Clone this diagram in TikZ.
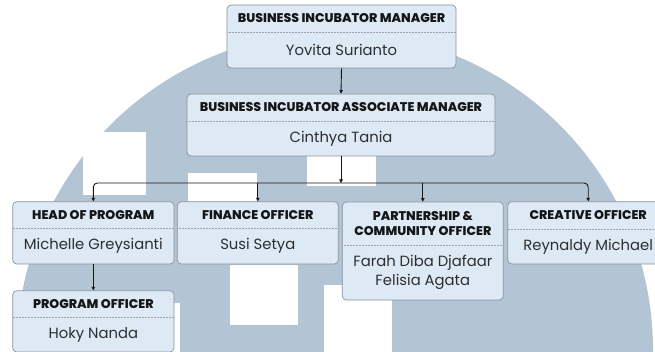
\documentclass[tikz,border=0pt]{standalone}
\usepackage{fontspec}
\setmainfont{Poppins}[BoldFont={Poppins ExtraBold}]
\usetikzlibrary{arrows.meta}
\definecolor{wm}{HTML}{B3C4D5}
\definecolor{boxfill}{HTML}{DDE9F5}
\definecolor{boxline}{HTML}{8A939D}
\definecolor{divline}{HTML}{9AA3AD}
\definecolor{ink}{HTML}{161616}
\definecolor{nameink}{HTML}{2E2E2E}
\tikzset{
  box/.style={draw=boxline, fill=boxfill, line width=0.7pt, rounded corners=4pt, inner sep=0pt},
  divider/.style={draw=divline, line width=0.5pt, densely dotted},
  ttl/.style={font=\bfseries\fontsize{12.6}{15.5}\selectfont, text=ink, align=center, inner sep=0pt},
  nm/.style={font=\fontsize{14.8}{19.5}\selectfont, text=nameink, align=center, inner sep=0pt},
  conn/.style={draw=ink, line width=0.9pt, -{Triangle[length=3.5pt,width=3.5pt]}},
}
\newcommand\obox[8]{%
  \node[box, minimum width={#4-#2}, minimum height={#6-#3}] (#1) at ({(#2+#4)/2},{(#3+#6)/2}) {};
  \draw[divider] (#2,#5) -- (#4,#5);
  \node[ttl] (#1-t) at ({(#2+#4)/2},{(#3+#5)/2}) {#7};
  \node[nm] (#1-n) at ({(#2+#4)/2},{(#5+#6)/2}) {#8};
}
\begin{document}
\begin{tikzpicture}[x=1pt,y=-1pt]
\useasboundingbox (0,0) rectangle (655,352);
% watermark
\begin{scope}
\clip (0,0) rectangle (655,352);
\fill[wm] (335,350) circle[radius=318pt];
\fill[white] (83,132) rectangle (146,195);
\fill[white] (188,173) rectangle (257,205);
\fill[white] (307,156) rectangle (376,186);
\fill[white] (230,265) rectangle (298,325);
\fill[white] (110,303) rectangle (180,352);
\fill[white] (324,285) rectangle (392,352);
\end{scope}
% boxes
\obox{mgr}{227}{5}{456}{32}{68}{BUSINESS INCUBATOR MANAGER}{Yovita Surianto}
\obox{assoc}{187}{94}{495}{121}{156}{BUSINESS INCUBATOR ASSOCIATE MANAGER}{Cinthya Tania}
\obox{head}{12.7}{201.7}{174}{228.5}{264}{HEAD OF PROGRAM}{Michelle Greysianti}
\obox{fin}{177.3}{201.7}{338.3}{228.5}{264}{FINANCE OFFICER}{Susi Setya}
\obox{part}{342.3}{202}{503.3}{245}{300}{PARTNERSHIP \&\\COMMUNITY OFFICER}{Farah Diba Djafaar\\Felisia Agata}
\obox{crea}{507.7}{201.7}{668.7}{228.8}{264}{CREATIVE OFFICER}{Reynaldy Michael}
\obox{prog}{12.7}{290.7}{174}{317.3}{352}{PROGRAM OFFICER}{Hoky Nanda}
% connectors
\coordinate (bus) at (assoc.south |- 0,183);
\draw[conn] (mgr.south) -- (assoc.north);
\draw[conn] (assoc.south) -- (bus);
\draw[conn, rounded corners=4pt] (bus) -| (head.north);
\draw[conn, rounded corners=4pt] (bus) -| (crea.north);
\draw[conn] (fin.north |- bus) -- (fin.north);
\draw[conn] (part.north |- bus) -- (part.north);
\draw[conn] (head.south) -- (prog.north);
\end{tikzpicture}
\end{document}
